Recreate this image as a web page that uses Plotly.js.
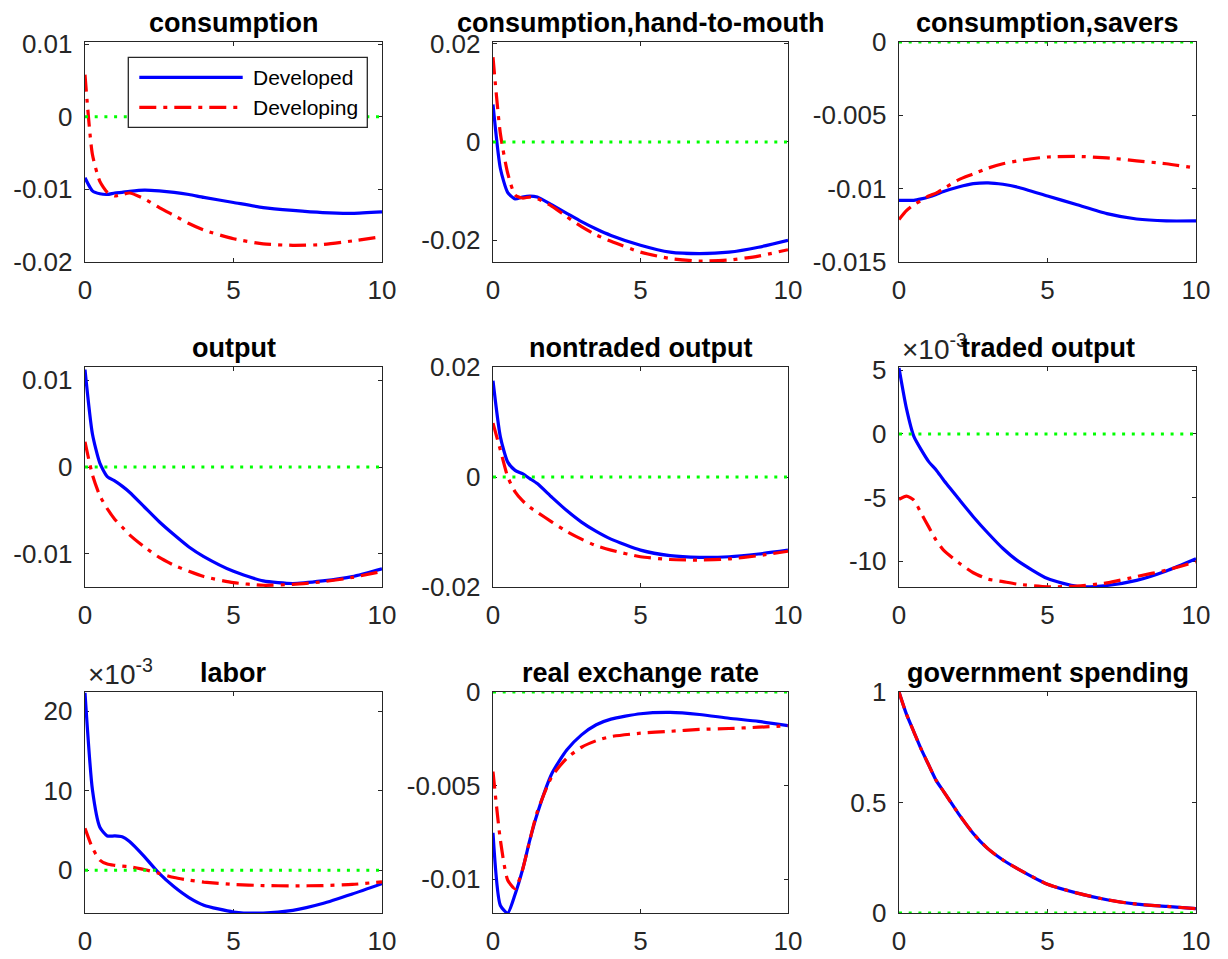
<!DOCTYPE html>
<html>
<head>
<meta charset="utf-8">
<script src="https://cdn.plot.ly/plotly-3.0.1.min.js"></script>
<style>
  html, body { margin: 0; padding: 0; background: #ffffff; }
  #chart { width: 1228px; height: 959px; }
</style>
</head>
<body>
<div id="chart"></div>
<script>
// Impulse responses to a government spending shock, years after the shock
const horizon = [0, 0.25, 0.5, 0.75, 1, 1.25, 1.5, 2, 2.5, 3, 3.5, 4, 5, 6, 7, 8, 9, 10];
const seriesNames = ['Developed', 'Developing'];
const panelTitles = ['consumption', 'consumption,hand-to-mouth', 'consumption,savers',
                     'output', 'nontraded output', 'traded output',
                     'labor', 'real exchange rate', 'government spending'];

// steady-state reference (zero deviation) across the horizon
const steadyX = [0, 10];
const steadyY = [0, 0];

const consDeveloped  = [-0.0084, -0.0102, -0.0106, -0.0107, -0.0105, -0.0104, -0.01027, -0.0101, -0.0102, -0.0104, -0.0107, -0.0111, -0.0118, -0.0125, -0.0129, -0.0132, -0.0133, -0.0131];
const consDeveloping = [0.0058, -0.0052, -0.0089, -0.0104, -0.0109, -0.0107, -0.0105, -0.0113, -0.0125, -0.0136, -0.0147, -0.0156, -0.0168, -0.0175, -0.0177, -0.0176, -0.0171, -0.0165];

const htmDeveloped  = [0.0076, -0.0054, -0.0103, -0.0116, -0.0112, -0.0110, -0.0112, -0.0128, -0.0145, -0.0162, -0.0177, -0.0190, -0.0210, -0.0224, -0.0227, -0.0224, -0.0214, -0.0200];
const htmDeveloping = [0.0172, 0.0017, -0.0064, -0.0108, -0.0114, -0.0112, -0.0115, -0.0131, -0.0152, -0.0172, -0.0189, -0.0202, -0.0224, -0.0237, -0.0242, -0.0240, -0.0232, -0.0219];

const saversDeveloped  = [-0.0108, -0.0108, -0.0108, -0.0107, -0.01057, -0.0104, -0.0102, -0.00989, -0.00966, -0.0096, -0.0097, -0.0099, -0.0105, -0.0111, -0.0117, -0.01207, -0.0122, -0.0122];
const saversDeveloping = [-0.0121, -0.0115, -0.0111, -0.0108, -0.0105, -0.0103, -0.0100, -0.0094, -0.0090, -0.0086, -0.0083, -0.0081, -0.00784, -0.0078, -0.0079, -0.0081, -0.0083, -0.0086];

const outputDeveloped  = [0.0112, 0.0038, 0.00045, -0.0011, -0.0016, -0.0022, -0.0029, -0.0046, -0.0063, -0.0078, -0.0092, -0.0103, -0.0120, -0.0131, -0.0134, -0.0131, -0.0126, -0.0117];
const outputDeveloping = [0.0029, -0.0009, -0.0033, -0.0048, -0.0060, -0.0069, -0.0078, -0.0092, -0.0104, -0.0113, -0.0120, -0.0126, -0.0133, -0.0136, -0.0135, -0.0132, -0.0127, -0.0120];

const nontradedDeveloped  = [0.0175, 0.0073, 0.0027, 0.0012, 0.0006, -0.0003, -0.0012, -0.0037, -0.0061, -0.0082, -0.0099, -0.0113, -0.0133, -0.0143, -0.0146, -0.0145, -0.0140, -0.0133];
const nontradedDeveloping = [0.0098, 0.0049, 0.0000, -0.0027, -0.0043, -0.0055, -0.0064, -0.0082, -0.0099, -0.0113, -0.0125, -0.0133, -0.0145, -0.0150, -0.0151, -0.0149, -0.0143, -0.0135];

// traded output and labor are in units of 10^-3
const tradedDeveloped  = [5.17, 2.0, -0.2, -1.26, -2.18, -2.83, -3.62, -5.07, -6.5, -7.8, -9.0, -9.97, -11.36, -11.97, -11.9, -11.5, -10.76, -9.8];
const tradedDeveloping = [-5.14, -4.88, -5.2, -6.25, -7.3, -8.35, -9.13, -10.1, -10.9, -11.4, -11.6, -11.8, -12.0, -11.95, -11.7, -11.2, -10.7, -10.05];

const laborDeveloped  = [22.3, 10.1, 5.4, 4.3, 4.3, 4.2, 3.6, 1.7, -0.42, -2.1, -3.45, -4.4, -5.26, -5.4, -5.05, -4.2, -3.0, -1.7];
const laborDeveloping = [5.26, 2.8, 1.26, 0.76, 0.6, 0.5, 0.42, 0.08, -0.42, -0.93, -1.26, -1.5, -1.8, -1.94, -1.98, -1.94, -1.8, -1.47];

const rerDeveloped  = [-0.00752, -0.0114, -0.0118, -0.0108, -0.0095, -0.0079, -0.0065, -0.00434, -0.0031, -0.00229, -0.00175, -0.00145, -0.00116, -0.00109, -0.0012, -0.0014, -0.00157, -0.0018];
const rerDeveloping = [-0.00425, -0.0079, -0.01005, -0.0105, -0.0095, -0.0079, -0.0064, -0.0045, -0.00354, -0.00295, -0.0026, -0.00238, -0.0022, -0.0021, -0.0020, -0.00195, -0.00188, -0.0018];

const govDeveloped  = [1.00, 0.90, 0.82, 0.74, 0.67, 0.60, 0.55, 0.45, 0.36, 0.29, 0.24, 0.20, 0.13, 0.09, 0.06, 0.04, 0.03, 0.02];
const govDeveloping = [1.00, 0.90, 0.82, 0.74, 0.67, 0.60, 0.55, 0.45, 0.36, 0.29, 0.24, 0.20, 0.13, 0.09, 0.06, 0.04, 0.03, 0.02];

// tick values and their printed labels
const xTickVals = [0, 5, 10];
const xTickText = ['0', '5', '10'];
const consTicks = [-0.02, -0.01, 0, 0.01];       const consTickText = ['-0.02', '-0.01', '0', '0.01'];
const htmTicks = [-0.02, 0, 0.02];                const htmTickText = ['-0.02', '0', '0.02'];
const saversTicks = [-0.015, -0.01, -0.005, 0];   const saversTickText = ['-0.015', '-0.01', '-0.005', '0'];
const outputTicks = [-0.01, 0, 0.01];             const outputTickText = ['-0.01', '0', '0.01'];
const nontradedTicks = [-0.02, 0, 0.02];          const nontradedTickText = ['-0.02', '0', '0.02'];
const tradedTicks = [-10, -5, 0, 5];              const tradedTickText = ['-10', '-5', '0', '5'];
const laborTicks = [0, 10, 20];                   const laborTickText = ['0', '10', '20'];
const rerTicks = [-0.01, -0.005, 0];              const rerTickText = ['-0.01', '-0.005', '0'];
const govTicks = [0, 0.5, 1];                     const govTickText = ['0', '0.5', '1'];

const panelSeries = [
  [consDeveloped, consDeveloping], [htmDeveloped, htmDeveloping], [saversDeveloped, saversDeveloping],
  [outputDeveloped, outputDeveloping], [nontradedDeveloped, nontradedDeveloping], [tradedDeveloped, tradedDeveloping],
  [laborDeveloped, laborDeveloping], [rerDeveloped, rerDeveloping], [govDeveloped, govDeveloping]
];
const panelTicks = [
  [consTicks, consTickText], [htmTicks, htmTickText], [saversTicks, saversTickText],
  [outputTicks, outputTickText], [nontradedTicks, nontradedTickText], [tradedTicks, tradedTickText],
  [laborTicks, laborTickText], [rerTicks, rerTickText], [govTicks, govTickText]
];
const scaledPanels = [5, 6]; // panels whose axis carries a x10^-3 multiplier

// ---- layout geometry (pixels on a 1228 x 959 page) ----
const W = 1228, H = 959;
const colPx = [[85, 382], [493, 788], [899, 1196]];
const rowPx = [[42, 262], [367, 587], [692, 913]];
const yRanges = [
  [-0.02, 0.0103], [-0.0244, 0.0203], [-0.015, 0],
  [-0.0138, 0.0115], [-0.02, 0.02], [-12.02, 5.25],
  [-5.39, 22.4], [-0.0118, 0], [0, 1]
];
const px = x => x / W;
const py = y => 1 - y / H;

const FONT = 'Liberation Sans, Arial, Helvetica, sans-serif';
const AXIS_COLOR = '#262626';
const BLUE = '#0000ff', RED = '#ff0000', GREEN = '#00ff00';
const DASHDOT = '17px,7px,4px,7px';
const DOTTED = '3px,6.7px';

const traces = [];
const layout = {
  width: W, height: H,
  margin: {l: 0, r: 0, t: 0, b: 0},
  paper_bgcolor: '#ffffff', plot_bgcolor: '#ffffff',
  showlegend: false,
  font: {family: FONT, color: AXIS_COLOR},
  annotations: [], shapes: []
};

for (let i = 0; i < 9; i++) {
  const r = Math.floor(i / 3), c = i % 3;
  const sfx = i === 0 ? '' : String(i + 1);
  const xa = 'x' + sfx, ya = 'y' + sfx;
  const [dev, ing] = panelSeries[i];

  traces.push({x: horizon, y: dev, xaxis: xa, yaxis: ya, type: 'scatter', mode: 'lines',
               name: seriesNames[0], line: {color: BLUE, width: 3.2, shape: 'spline', smoothing: 0.6}});
  traces.push({x: horizon, y: ing, xaxis: xa, yaxis: ya, type: 'scatter', mode: 'lines',
               name: seriesNames[1], line: {color: RED, width: 3.2, dash: DASHDOT, shape: 'spline', smoothing: 0.6}});
  traces.push({x: steadyX, y: steadyY, xaxis: xa, yaxis: ya, type: 'scatter', mode: 'lines',
               line: {color: GREEN, width: 3, dash: DOTTED}, cliponaxis: false});

  const common = {
    showline: true, linecolor: AXIS_COLOR, linewidth: 1.3, mirror: 'ticks',
    ticks: 'inside', ticklen: 4, tickwidth: 1, tickcolor: AXIS_COLOR,
    showgrid: false, zeroline: false, layer: 'below traces',
    tickfont: {family: FONT, size: 26, color: AXIS_COLOR}, fixedrange: true
  };
  layout['xaxis' + sfx] = Object.assign({}, common, {
    domain: [px(colPx[c][0]), px(colPx[c][1])], anchor: ya,
    range: [0, 10], tickmode: 'array', tickvals: xTickVals, ticktext: xTickText,
    ticklabelstandoff: 4
  });
  layout['yaxis' + sfx] = Object.assign({}, common, {
    domain: [py(rowPx[r][1]), py(rowPx[r][0])], anchor: xa,
    range: yRanges[i], tickmode: 'array', tickvals: panelTicks[i][0], ticktext: panelTicks[i][1],
    ticklabelstandoff: 6
  });

  if (scaledPanels.includes(i)) {
    layout.annotations.push({
      xref: 'paper', yref: 'paper', x: px(colPx[c][0] + 1), y: py(rowPx[r][0]),
      xanchor: 'left', yanchor: 'bottom', yshift: 0, showarrow: false,
      text: '×10<sup>-3</sup>', font: {family: FONT, size: 28, color: AXIS_COLOR}
    });
  }
  layout.annotations.push({
    xref: 'paper', yref: 'paper', x: px((colPx[c][0] + colPx[c][1]) / 2), y: py(rowPx[r][0]),
    xanchor: 'center', yanchor: 'bottom', yshift: 2, showarrow: false,
    text: panelTitles[i], font: {family: FONT, size: 27, color: '#000000', weight: 700}
  });
}

// legend box inside the first panel
const leg = {x0: 128.3, y0: 57.3, x1: 367.3, y1: 127.3};
layout.shapes.push({type: 'rect', xref: 'paper', yref: 'paper', layer: 'above',
  x0: px(leg.x0), x1: px(leg.x1), y0: py(leg.y1), y1: py(leg.y0),
  fillcolor: '#ffffff', line: {color: AXIS_COLOR, width: 1.3}});
const legRows = [{y: 77.3, color: BLUE, dash: 'solid'}, {y: 107.3, color: RED, dash: DASHDOT}];
legRows.forEach((row, k) => {
  layout.shapes.push({type: 'line', xref: 'paper', yref: 'paper', layer: 'above',
    x0: px(139.3), x1: px(242.7), y0: py(row.y), y1: py(row.y),
    line: {color: row.color, width: 3.2, dash: row.dash}});
  layout.annotations.push({xref: 'paper', yref: 'paper', x: px(251), y: py(row.y),
    xanchor: 'left', yanchor: 'middle', showarrow: false, text: seriesNames[k],
    font: {family: FONT, size: 21, color: '#000000'}});
});

Plotly.newPlot('chart', traces, layout, {displayModeBar: false, staticPlot: true});
</script>
</body>
</html>
